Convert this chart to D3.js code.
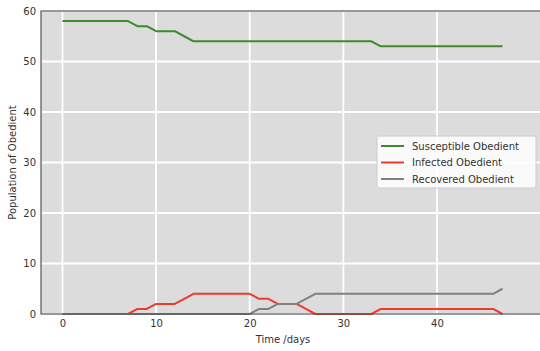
<!DOCTYPE html>
<html>
<head>
<meta charset="utf-8">
<script src="https://cdn.jsdelivr.net/npm/d3@7"></script>
<style>
  html, body { margin: 0; padding: 0; background: #ffffff; overflow: hidden; }
  svg { display: block; font-family: "DejaVu Sans", sans-serif; }
</style>
</head>
<body>
<svg id="chart" width="540" height="351"></svg>
<script>
// Daily counts of the obedient population (days 0..47)
const days = d3.range(0, 48);
const susceptible = [58,58,58,58,58,58,58,58,57,57,56,56,56,55,54,54,54,54,54,54,
                     54,54,54,54,54,54,54,54,54,54,54,54,54,54,53,53,53,53,53,53,
                     53,53,53,53,53,53,53,53];
const infected =    [0,0,0,0,0,0,0,0,1,1,2,2,2,3,4,4,4,4,4,4,
                     4,3,3,2,2,2,1,0,0,0,0,0,0,0,1,1,1,1,1,1,
                     1,1,1,1,1,1,1,0];
const recovered =   [0,0,0,0,0,0,0,0,0,0,0,0,0,0,0,0,0,0,0,0,
                     0,1,1,2,2,2,3,4,4,4,4,4,4,4,4,4,4,4,4,4,
                     4,4,4,4,4,4,4,5];
const seriesNames = ["Susceptible Obedient", "Infected Obedient", "Recovered Obedient"];
const seriesColors = ["#3c8a2e", "#ee3b2b", "#808080"];
const xTicks = [0, 10, 20, 30, 40];
const yTicks = [0, 10, 20, 30, 40, 50, 60];

const svg = d3.select("#chart");
const plot = { left: 41, top: 11, right: 560, bottom: 314 };

const x = d3.scaleLinear().domain([0, 47]).range([62.5, 502.5]);
const y = d3.scaleLinear().domain([0, 60]).range([plot.bottom, plot.top]);

// background
svg.append("rect")
  .attr("x", plot.left).attr("y", plot.top)
  .attr("width", plot.right - plot.left).attr("height", plot.bottom - plot.top)
  .attr("fill", "#dcdcdc");

// grid
const grid = svg.append("g");
grid.selectAll(".gx").data(xTicks).join("line")
  .attr("x1", d => x(d)).attr("x2", d => x(d))
  .attr("y1", plot.top).attr("y2", plot.bottom)
  .attr("stroke", "#ffffff").attr("stroke-width", 1.8);
grid.selectAll(".gy").data(yTicks).join("line")
  .attr("x1", plot.left).attr("x2", plot.right)
  .attr("y1", d => y(d)).attr("y2", d => y(d))
  .attr("stroke", "#ffffff").attr("stroke-width", 1.8);

// series
const series = [susceptible, infected, recovered];
const line = d3.line().x((d, i) => x(days[i])).y(d => y(d));
series.forEach((s, k) => {
  svg.append("path")
    .datum(s)
    .attr("d", line)
    .attr("fill", "none")
    .attr("stroke", seriesColors[k])
    .attr("stroke-width", 2)
    .attr("stroke-linejoin", "round");
});

// spines
svg.append("rect")
  .attr("x", plot.left).attr("y", plot.top)
  .attr("width", plot.right - plot.left).attr("height", plot.bottom - plot.top)
  .attr("fill", "none").attr("stroke", "#555555").attr("stroke-width", 1.2);

// axes
const xAxis = svg.append("g")
  .attr("transform", `translate(0,${plot.bottom})`)
  .call(d3.axisBottom(x).tickValues(xTicks).tickSize(0).tickPadding(6));
const yAxis = svg.append("g")
  .attr("transform", `translate(${plot.left},0)`)
  .call(d3.axisLeft(y).tickValues(yTicks).tickSize(0).tickPadding(5));
[xAxis, yAxis].forEach(a => {
  a.select(".domain").remove();
  a.selectAll("text").attr("font-size", 10).attr("fill", "#333333")
    .attr("font-family", "DejaVu Sans, sans-serif");
});

// axis titles
svg.append("text")
  .attr("x", 283).attr("y", 343)
  .attr("text-anchor", "middle")
  .attr("font-size", 10).attr("fill", "#333333")
  .text("Time /days");
svg.append("text")
  .attr("transform", `translate(16,${(plot.top + plot.bottom) / 2}) rotate(-90)`)
  .attr("text-anchor", "middle")
  .attr("font-size", 10).attr("fill", "#333333")
  .text("Population of Obedient");

// legend
const lg = svg.append("g").attr("transform", "translate(377,136)");
lg.append("rect")
  .attr("width", 159).attr("height", 52).attr("rx", 2)
  .attr("fill", "#ffffff").attr("fill-opacity", 0.85)
  .attr("stroke", "#cccccc").attr("stroke-width", 1);
seriesNames.forEach((name, k) => {
  const yy = 10 + k * 16.5;
  lg.append("line")
    .attr("x1", 4).attr("x2", 27).attr("y1", yy).attr("y2", yy)
    .attr("stroke", seriesColors[k]).attr("stroke-width", 2);
  lg.append("text")
    .attr("x", 35).attr("y", yy).attr("dy", "0.35em")
    .attr("font-size", 10).attr("fill", "#333333")
    .text(name);
});
</script>
</body>
</html>
